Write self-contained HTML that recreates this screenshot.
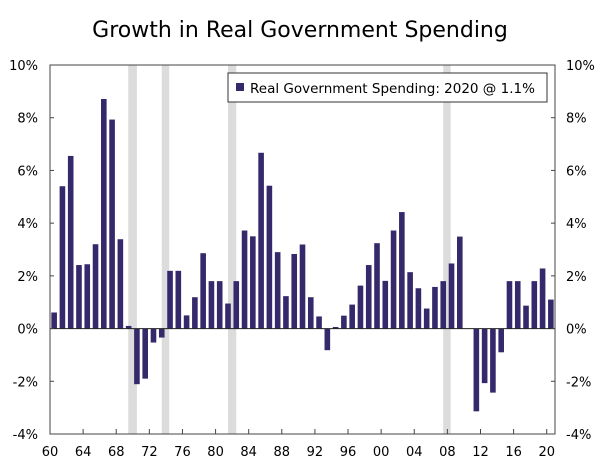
<!DOCTYPE html>
<html><head><meta charset="utf-8"><style>
body{margin:0;background:#fff;}
svg text{font-family:"DejaVu Sans","Liberation Sans",sans-serif;fill:#000;}
</style></head><body>
<svg id="chart" width="600" height="461">
<text x="300" y="37" text-anchor="middle" font-size="22">Growth in Real Government Spending</text>
<g id="rec"></g><g id="bars"></g><g id="axes"></g>
<g>
<rect x="228" y="73" width="319" height="29" fill="#fff" stroke="#333" stroke-width="1"/>
<rect x="236" y="83" width="8" height="8" fill="#35296b"/>
<text x="250" y="93" font-size="13.5">Real Government Spending: 2020 @ 1.1%</text>
</g>
</svg>
<script>
const years=[];for(let y=1960;y<=2020;y++)years.push(y);
const values=[0.61,5.4,6.55,2.41,2.44,3.2,8.71,7.93,3.39,0.1,-2.11,-1.9,-0.53,-0.34,2.19,2.19,0.5,1.19,2.86,1.8,1.8,0.95,1.8,3.72,3.5,6.67,5.42,2.9,1.23,2.83,3.19,1.19,0.46,-0.82,0.06,0.49,0.91,1.63,2.41,3.24,1.81,3.72,4.42,2.14,1.53,0.76,1.58,1.8,2.47,3.49,0,-3.14,-2.07,-2.43,-0.9,1.8,1.8,0.87,1.8,2.28,1.1];
const recStart=[1969.45,1973.5,1981.5,2007.5];
const recEnd=[1970.5,1974.4,1982.5,2008.4];
const yTicks=[-4,-2,0,2,4,6,8,10];
const xTickLabels=["60","64","68","72","76","80","84","88","92","96","00","04","08","12","16","20"];
const L=50,R=555,T=65,B=434,ymin=-4,ymax=10;
const sx=y=>L+(y-1960)*(R-L)/61;
const sy=v=>B-(v-ymin)*(B-T)/(ymax-ymin);
const NS="http://www.w3.org/2000/svg";
function mk(tag,attrs,parent){const e=document.createElementNS(NS,tag);for(const k in attrs)e.setAttribute(k,attrs[k]);document.getElementById(parent).appendChild(e);return e;}
recStart.forEach((s,i)=>{
const r=mk('rect',{x:sx(s),y:T,width:sx(recEnd[i])-sx(s),height:B-T,fill:'#dcdcdc'},'rec');


});
values.forEach((v,i)=>{
const c=sx(years[i]+0.5);const y0=sy(0),y1=sy(v);
const r=mk('rect',{x:c-2.8,y:Math.min(y0,y1),width:5.6,height:Math.abs(y1-y0),fill:'#35296b'},'bars');


});
const ax=document.getElementById('axes');
let f=mk('rect',{x:L,y:T,width:R-L,height:B-T,fill:'none',stroke:'#444','stroke-width':1},'axes');


let z=mk('line',{x1:L,x2:R,y1:sy(0),y2:sy(0),stroke:'#222','stroke-width':1},'axes');


yTicks.forEach(t=>{
const y=sy(t);
mk('line',{x1:L,x2:L+4,y1:y,y2:y,stroke:'#444'},'axes');
mk('line',{x1:R-4,x2:R,y1:y,y2:y,stroke:'#444'},'axes');
const a=mk('text',{x:38,y:y+5,'text-anchor':'end','font-size':13},'axes');a.textContent=t+'%';


const b=mk('text',{x:566,y:y+5,'font-size':13},'axes');b.textContent=t+'%';


});
xTickLabels.forEach((lab,i)=>{
const x=sx(1960+i*4);
mk('line',{x1:x,x2:x,y1:B,y2:B-5,stroke:'#444'},'axes');
const t=mk('text',{x:x,y:456,'text-anchor':'middle','font-size':13},'axes');t.textContent=lab;


});
</script>
</body></html>
